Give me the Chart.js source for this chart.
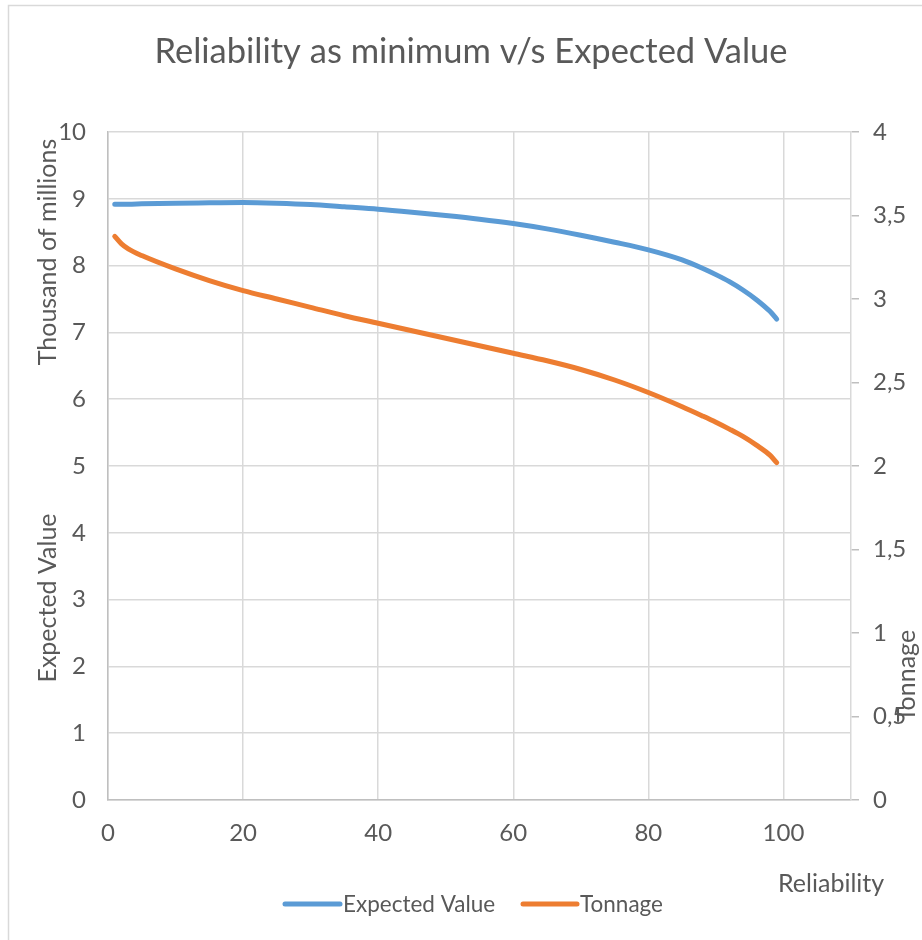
<!DOCTYPE html>
<html>
<head>
<meta charset="utf-8">
<title>Reliability as minimum v/s Expected Value</title>
<script src="https://cdn.jsdelivr.net/npm/chart.js@4/dist/chart.umd.min.js"></script>
<style>
  html, body { margin: 0; padding: 0; background: #ffffff; }
  #wrap { width: 922px; height: 940px; }
</style>
</head>
<body>
<div id="wrap"><canvas id="chart" width="922" height="940"></canvas></div>
<script>
// Reliability levels (%) used as the minimum constraint
const reliability = [1, 2, 3, 5, 10, 15, 20, 25, 30, 35, 40, 45, 50, 55, 60, 65, 70, 75, 80, 85, 88, 90, 92, 94, 96, 98, 99];
// Expected value, thousand of millions (left axis)
const expectedValue = [8.92, 8.92, 8.92, 8.925, 8.935, 8.94, 8.945, 8.935, 8.915, 8.88, 8.845, 8.80, 8.75, 8.695, 8.63, 8.55, 8.455, 8.35, 8.235, 8.085, 7.96, 7.865, 7.76, 7.635, 7.49, 7.315, 7.20];
// Tonnage (right axis)
const tonnage = [3.375, 3.33, 3.30, 3.26, 3.18, 3.11, 3.05, 3.00, 2.95, 2.90, 2.855, 2.81, 2.765, 2.72, 2.675, 2.63, 2.578, 2.515, 2.44, 2.355, 2.30, 2.262, 2.221, 2.177, 2.125, 2.065, 2.02];

const FONT = 'Lato, "Open Sans", "Liberation Sans", sans-serif';
const TEXT = '#595959';

const toPoints = (xs, ys) => xs.map((x, i) => ({ x: x, y: ys[i] }));

// Background, outer frame, title, axis titles and legend
const decorations = {
  id: 'decorations',
  beforeDraw(chart) {
    const ctx = chart.ctx;
    ctx.save();
    ctx.fillStyle = '#ffffff';
    ctx.fillRect(0, 0, chart.width, chart.height);
    ctx.strokeStyle = '#d9d9d9';
    ctx.lineWidth = 1.5;
    ctx.strokeRect(8.5, 5.5, chart.width + 10, chart.height + 10);
    ctx.restore();
  },
  afterDraw(chart) {
    const ctx = chart.ctx;
    ctx.save();
    ctx.fillStyle = TEXT;

    // chart title
    ctx.font = '34.5px ' + FONT;
    ctx.textAlign = 'center';
    ctx.textBaseline = 'middle';
    ctx.fillText('Reliability as minimum v/s Expected Value', 471, 52);

    const vText = (txt, x, y) => {
      ctx.save();
      ctx.translate(x, y);
      ctx.rotate(-Math.PI / 2);
      ctx.textAlign = 'center';
      ctx.textBaseline = 'middle';
      ctx.fillText(txt, 0, 0);
      ctx.restore();
    };
    ctx.font = '25px ' + FONT;
    // left axis: display-units label and title
    vText('Thousand of millions', 48, 252);
    vText('Expected Value', 48, 598);
    // right axis title
    vText('Tonnage', 907, 676);

    // x axis title
    ctx.textAlign = 'left';
    ctx.textBaseline = 'middle';
    ctx.fillText('Reliability', 778, 884);

    // legend
    ctx.font = '22.5px ' + FONT;
    const items = [
      { ds: chart.data.datasets[0], x0: 285, x1: 340, tx: 343 },
      { ds: chart.data.datasets[1], x0: 523, x1: 577, tx: 580 }
    ];
    items.forEach(it => {
      ctx.strokeStyle = it.ds.borderColor;
      ctx.lineWidth = 5;
      ctx.lineCap = 'round';
      ctx.beginPath();
      ctx.moveTo(it.x0, 904);
      ctx.lineTo(it.x1, 904);
      ctx.stroke();
      ctx.fillStyle = TEXT;
      ctx.fillText(it.ds.label, it.tx, 905);
    });
    ctx.restore();
  }
};

new Chart(document.getElementById('chart'), {
  type: 'line',
  data: {
    datasets: [
      {
        label: 'Expected Value',
        data: toPoints(reliability, expectedValue),
        yAxisID: 'y',
        borderColor: '#5B9BD5',
        backgroundColor: '#5B9BD5',
        borderWidth: 5,
        borderCapStyle: 'round',
        borderJoinStyle: 'round',
        pointRadius: 0,
        cubicInterpolationMode: 'monotone',
        fill: false
      },
      {
        label: 'Tonnage',
        data: toPoints(reliability, tonnage),
        yAxisID: 'y1',
        borderColor: '#ED7D31',
        backgroundColor: '#ED7D31',
        borderWidth: 5,
        borderCapStyle: 'round',
        borderJoinStyle: 'round',
        pointRadius: 0,
        cubicInterpolationMode: 'monotone',
        fill: false
      }
    ]
  },
  options: {
    responsive: false,
    animation: false,
    devicePixelRatio: 1,
    layout: { padding: { top: 132, left: 0, right: 0, bottom: 0 } },
    plugins: {
      legend: { display: false },
      title: { display: false },
      tooltip: { enabled: false }
    },
    scales: {
      x: {
        type: 'linear',
        position: 'bottom',
        min: 0,
        max: 110,
        afterFit(scale) { scale.height = 140; },
        ticks: {
          stepSize: 20,
          includeBounds: false,
          color: TEXT,
          font: { family: FONT, size: 24 },
          padding: 19,
          maxRotation: 0
        },
        grid: { color: '#d9d9d9', lineWidth: 1.5, drawTicks: false },
        border: { display: true, color: '#bfbfbf', width: 1.5 }
      },
      y: {
        type: 'linear',
        position: 'left',
        min: 0,
        max: 10,
        afterFit(scale) { scale.width = 108; },
        ticks: {
          stepSize: 1,
          color: TEXT,
          font: { family: FONT, size: 24 },
          padding: 22
        },
        grid: { color: '#d9d9d9', lineWidth: 1.5, drawTicks: false },
        border: { display: true, color: '#bfbfbf', width: 1.5 }
      },
      y1: {
        type: 'linear',
        position: 'right',
        min: 0,
        max: 4,
        afterFit(scale) { scale.width = 71; },
        ticks: {
          stepSize: 0.5,
          color: TEXT,
          font: { family: FONT, size: 24 },
          padding: 14,
          callback: v => String(v).replace('.', ',')
        },
        grid: { drawOnChartArea: false, drawTicks: true, tickLength: 8, color: '#bfbfbf', lineWidth: 1.5 },
        border: { display: true, color: '#d9d9d9', width: 1.5 }
      }
    }
  },
  plugins: [decorations]
});
</script>
</body>
</html>
